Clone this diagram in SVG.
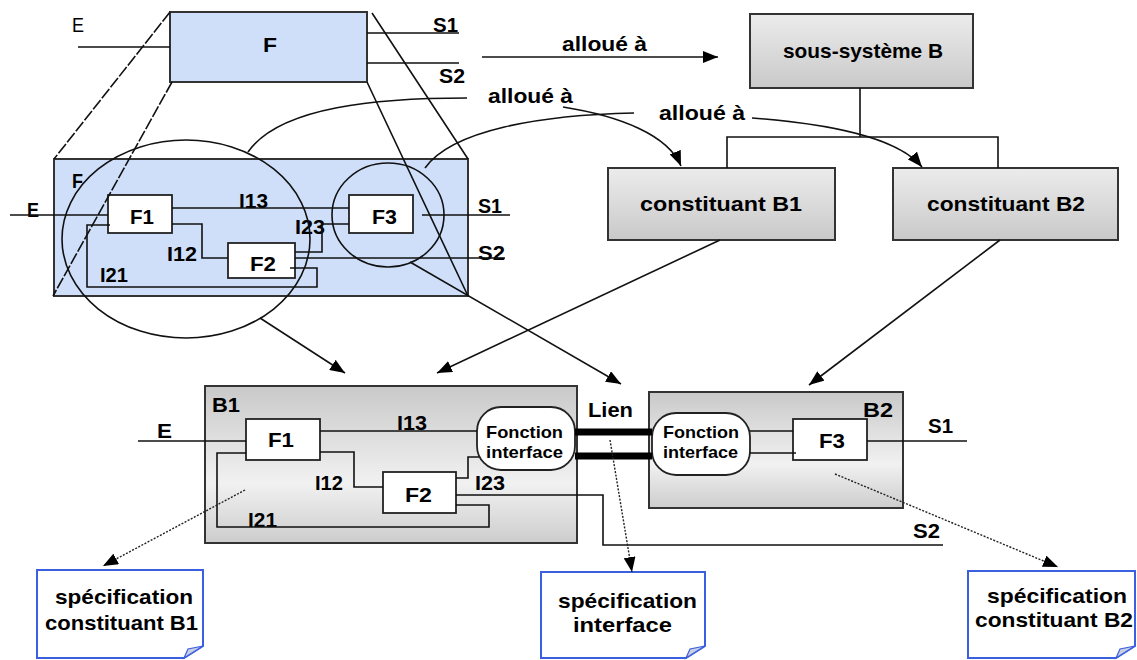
<svg xmlns="http://www.w3.org/2000/svg" width="1137" height="660" viewBox="0 0 1137 660">
<style>
.t{font-family:"Liberation Sans",Arial,Helvetica,sans-serif;font-weight:bold;font-size:20.5px;fill:#000}
.r{font-weight:normal}
.fi{font-size:17px}
.ln{stroke:#111;stroke-width:1.6;fill:none}
.bx{stroke:#333;stroke-width:2}
.wb{fill:#fff;stroke:#222;stroke-width:1.8}
.dot{stroke:#222;stroke-width:1.4;fill:none;stroke-dasharray:2 1.5}
.dash{stroke:#111;stroke-width:1.6;fill:none;stroke-dasharray:12 2}
.doc{fill:#fff;stroke:#3a5fe0;stroke-width:2}
.fold{fill:#c9cfe3;stroke:#3a5fe0;stroke-width:1.2}
</style>
<defs>
<marker id="ah" markerUnits="userSpaceOnUse" markerWidth="16" markerHeight="12" refX="15" refY="6" orient="auto">
<path d="M0,0 L15,6 L0,12 z" fill="#000"/>
</marker>
<linearGradient id="gT" x1="0" y1="0" x2="0" y2="1">
<stop offset="0" stop-color="#ececec"/><stop offset="1" stop-color="#c9c9c9"/>
</linearGradient>
<linearGradient id="gB" x1="0" y1="0" x2="0" y2="1">
<stop offset="0" stop-color="#c9c9c9"/><stop offset="0.62" stop-color="#f1f1f1"/><stop offset="1" stop-color="#cdcdcd"/>
</linearGradient>
</defs>
<rect width="1137" height="660" fill="#fff"/>

<g id="F-top">
<rect x="170" y="12" width="197" height="70" fill="#cfdffa" class="bx"/>
<text class="t" x="263" y="52" textLength="14" lengthAdjust="spacingAndGlyphs">F</text>
<text class="t r" x="72" y="32" textLength="12" lengthAdjust="spacingAndGlyphs">E</text>
<text class="t" x="433" y="32" textLength="25" lengthAdjust="spacingAndGlyphs">S1</text>
<text class="t" x="439" y="83" textLength="26" lengthAdjust="spacingAndGlyphs">S2</text>
</g>

<g id="F-decomp">
<rect x="54" y="159" width="414" height="137" fill="#cfdffa" class="bx"/>
<text class="t" x="72" y="188" textLength="11" lengthAdjust="spacingAndGlyphs">F</text>
<text class="t" x="27" y="217" textLength="12" lengthAdjust="spacingAndGlyphs">E</text>
<text class="t" x="239" y="208" textLength="29" lengthAdjust="spacingAndGlyphs">I13</text>
<text class="t" x="295" y="234" textLength="30" lengthAdjust="spacingAndGlyphs">I23</text>
<text class="t" x="478" y="213" textLength="24" lengthAdjust="spacingAndGlyphs">S1</text>
<text class="t" x="167" y="261" textLength="30" lengthAdjust="spacingAndGlyphs">I12</text>
<text class="t" x="478" y="260" textLength="27" lengthAdjust="spacingAndGlyphs">S2</text>
<text class="t" x="100" y="282" textLength="28" lengthAdjust="spacingAndGlyphs">I21</text>
</g>
<g id="F1-top"><rect x="108" y="195" width="64" height="38" class="wb"/><text class="t" x="130" y="224" textLength="24" lengthAdjust="spacingAndGlyphs">F1</text></g>
<g id="F3-top"><rect x="349" y="195" width="64" height="38" class="wb"/><text class="t" x="372" y="224" textLength="25" lengthAdjust="spacingAndGlyphs">F3</text></g>
<g id="F2-top"><rect x="228" y="243" width="67" height="35" class="wb"/><text class="t" x="250" y="271" textLength="26" lengthAdjust="spacingAndGlyphs">F2</text></g>

<g id="sous-systeme-B"><rect x="750" y="14" width="223" height="74" fill="url(#gT)" class="bx"/><text class="t" x="783" y="58" textLength="160" lengthAdjust="spacingAndGlyphs">sous-système B</text></g>
<g id="constituant-B1"><rect x="608" y="168" width="227" height="72" fill="url(#gT)" class="bx"/><text class="t" x="640" y="211" textLength="162" lengthAdjust="spacingAndGlyphs">constituant B1</text></g>
<g id="constituant-B2"><rect x="893" y="168" width="225" height="72" fill="url(#gT)" class="bx"/><text class="t" x="927" y="211" textLength="158" lengthAdjust="spacingAndGlyphs">constituant B2</text></g>

<g id="B1">
<rect x="205" y="386" width="372" height="157" fill="url(#gB)" class="bx"/>
<text class="t" x="212" y="412" textLength="28" lengthAdjust="spacingAndGlyphs">B1</text>
<text class="t" x="157" y="438" textLength="15" lengthAdjust="spacingAndGlyphs">E</text>
<text class="t" x="397" y="430" textLength="30" lengthAdjust="spacingAndGlyphs">I13</text>
<text class="t" x="315" y="490" textLength="28" lengthAdjust="spacingAndGlyphs">I12</text>
<text class="t" x="475" y="490" textLength="30" lengthAdjust="spacingAndGlyphs">I23</text>
<text class="t" x="248" y="527" textLength="29" lengthAdjust="spacingAndGlyphs">I21</text>
</g>
<g id="F1-B1"><rect x="246" y="419" width="74" height="41" class="wb"/><text class="t" x="268" y="447" textLength="26" lengthAdjust="spacingAndGlyphs">F1</text></g>
<g id="F2-B1"><rect x="383" y="472" width="73" height="41" class="wb"/><text class="t" x="405" y="502" textLength="27" lengthAdjust="spacingAndGlyphs">F2</text></g>
<g id="FI-B1"><rect x="477" y="407" width="98" height="63" rx="24" class="wb"/>
<text class="t fi" x="486" y="438" textLength="77" lengthAdjust="spacingAndGlyphs">Fonction</text>
<text class="t fi" x="486" y="458" textLength="77" lengthAdjust="spacingAndGlyphs">interface</text></g>

<g id="B2">
<rect x="649" y="392" width="254" height="116" fill="url(#gB)" class="bx"/>
<text class="t" x="863" y="417" textLength="30" lengthAdjust="spacingAndGlyphs">B2</text>
<text class="t" x="928" y="433" textLength="25" lengthAdjust="spacingAndGlyphs">S1</text>
<text class="t" x="913" y="538" textLength="27" lengthAdjust="spacingAndGlyphs">S2</text>
</g>
<g id="F3-B2"><rect x="793" y="419" width="74" height="41" class="wb"/><text class="t" x="819" y="448" textLength="26" lengthAdjust="spacingAndGlyphs">F3</text></g>
<g id="FI-B2"><rect x="652" y="413" width="98" height="62" rx="24" class="wb"/>
<text class="t fi" x="663" y="438" textLength="76" lengthAdjust="spacingAndGlyphs">Fonction</text>
<text class="t fi" x="663" y="458" textLength="75" lengthAdjust="spacingAndGlyphs">interface</text></g>

<g id="Lien"><text class="t" x="588" y="417" textLength="45" lengthAdjust="spacingAndGlyphs">Lien</text></g>

<g id="spec-B1">
<path class="doc" d="M37,570 H203 V646 L184,658 H37 Z"/><path class="fold" d="M184,658 L203,646 L188,649 Z"/>
<text class="t" x="55" y="604" textLength="138" lengthAdjust="spacingAndGlyphs">spécification</text>
<text class="t" x="45" y="630" textLength="153" lengthAdjust="spacingAndGlyphs">constituant B1</text>
</g>
<g id="spec-interface">
<path class="doc" d="M541,572 H705 V646 L686,658 H541 Z"/><path class="fold" d="M686,658 L705,646 L690,649 Z"/>
<text class="t" x="558" y="608" textLength="139" lengthAdjust="spacingAndGlyphs">spécification</text>
<text class="t" x="573" y="632" textLength="99" lengthAdjust="spacingAndGlyphs">interface</text>
</g>
<g id="spec-B2">
<path class="doc" d="M968,571 H1135 V646 L1116,658 H968 Z"/><path class="fold" d="M1116,658 L1135,646 L1120,649 Z"/>
<text class="t" x="987" y="603" textLength="140" lengthAdjust="spacingAndGlyphs">spécification</text>
<text class="t" x="975" y="627" textLength="158" lengthAdjust="spacingAndGlyphs">constituant B2</text>
</g>

<g id="labels-alloue">
<text class="t" x="562" y="51" textLength="85" lengthAdjust="spacingAndGlyphs">alloué à</text>
<text class="t" x="488" y="103" textLength="85" lengthAdjust="spacingAndGlyphs">alloué à</text>
<text class="t" x="659" y="120" textLength="86" lengthAdjust="spacingAndGlyphs">alloué à</text>
</g>

<g id="connectors">
<path class="ln" d="M78,47 H170 M367,33 H459 M367,63 H459"/>
<path class="ln" d="M10,215 H108"/>
<path class="ln" d="M172,208 H349"/>
<path class="ln" d="M172,224 H202 V258 H228"/>
<path class="ln" d="M349,224 H322 V252 H295"/>
<path class="ln" d="M295,258 H505"/>
<path class="ln" d="M422,215 H510"/>
<path class="ln" d="M290,268 H317 V287 H87 V225 H110"/>
<path class="dash" d="M170,12 L54,159 M172,82 L53,296"/>
<path class="ln" d="M372,13 L468,159 M367,82 L468,296"/>
<ellipse class="ln" cx="186" cy="239" rx="124" ry="99"/>
<ellipse class="ln" cx="388" cy="215" rx="56" ry="52"/>
<path class="ln" d="M482,57 H718" marker-end="url(#ah)"/>
<path class="ln" d="M248,152 C280,106 380,98 467,98"/>
<path class="ln" d="M563,107 C620,116 668,135 681,166" marker-end="url(#ah)"/>
<path class="ln" d="M425,168 C452,130 540,115 634,113"/>
<path class="ln" d="M752,118 C830,124 897,137 922,167" marker-end="url(#ah)"/>
<path class="ln" d="M860,88 V137 M727,168 V137 H998 V168"/>
<path class="ln" d="M260,318 L345,373" marker-end="url(#ah)"/>
<path class="ln" d="M410,262 L621,384" marker-end="url(#ah)"/>
<path class="ln" d="M720,240 L437,373" marker-end="url(#ah)"/>
<path class="ln" d="M1000,240 L809,385" marker-end="url(#ah)"/>
<path class="ln" d="M138,441 H246"/>
<path class="ln" d="M320,431 H477"/>
<path class="ln" d="M320,452 H354 V487 H383"/>
<path class="ln" d="M456,478 H468 V457 H479"/>
<path class="ln" d="M456,495 H603 V545 H943"/>
<path class="ln" d="M456,505 H489 V527 H217 V453 H246"/>
<path d="M575,432 H652 M575,456 H652" stroke="#000" stroke-width="7"/>
<path class="ln" d="M750,431 H793 M750,453 H796"/>
<path class="ln" d="M867,441 H967"/>
<path class="dot" d="M245,490 L103,566" marker-end="url(#ah)"/>
<path class="dot" d="M610,440 L632,572" marker-end="url(#ah)"/>
<path class="dot" d="M835,474 L1058,567" marker-end="url(#ah)"/>
</g>
</svg>
